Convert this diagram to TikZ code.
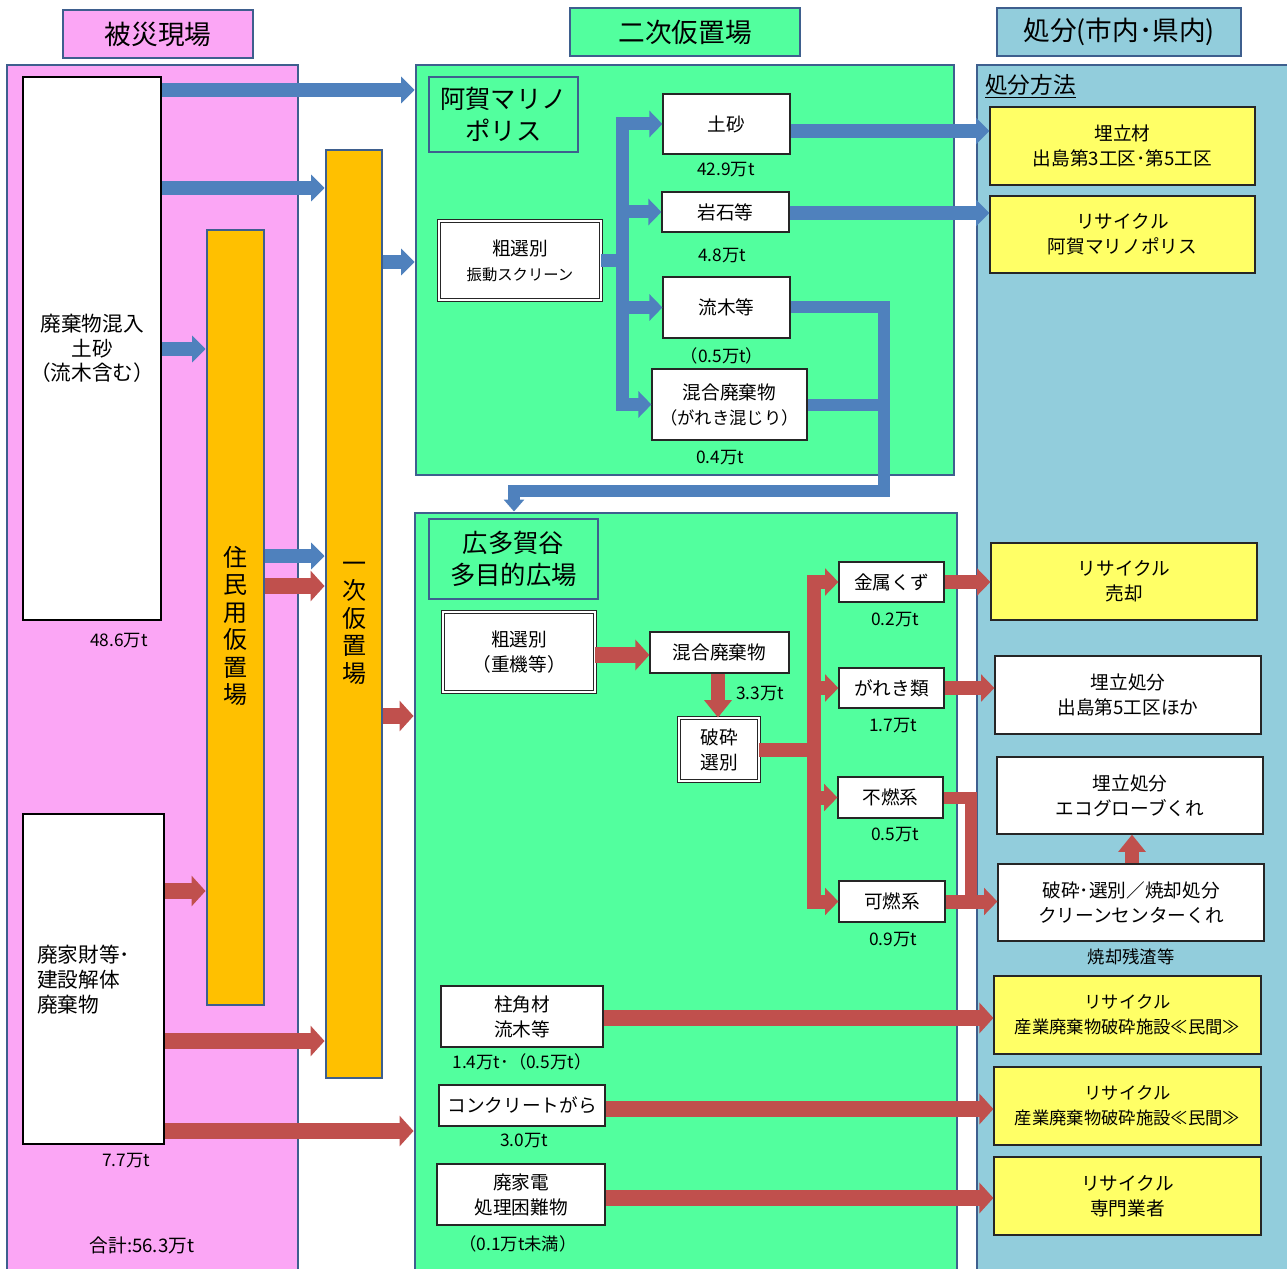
\documentclass[tikz,border=0pt]{standalone}
\usepackage{fontspec}
\setmainfont{Noto Sans CJK JP}
\usetikzlibrary{arrows.meta,calc}
\definecolor{pinkbg}{HTML}{FBA6F5}
\definecolor{greenbg}{HTML}{52FF9E}
\definecolor{bluebg}{HTML}{92CDDC}
\definecolor{orangebg}{HTML}{FFC000}
\definecolor{yellowbg}{HTML}{FFFF66}
\definecolor{framec}{HTML}{3E5F8E}
\definecolor{barrow}{HTML}{4F81BD}
\definecolor{rarrow}{HTML}{C0504D}
\newcommand{\fs}[2]{\fontsize{#1}{#2}\selectfont}
\newcommand{\bx}[7]{\node[#6, minimum width={(#4-#2)*0.75pt}, minimum height={(#5-#3)*0.75pt}] (#1) at ({(#2+#4)/2},{(#3+#5)/2}) {#7};}
\tikzset{
  panel/.style={draw=framec, line width=2.2pt, inner sep=0pt},
  hdr/.style={draw=framec, line width=2.2pt, font=\fs{20}{24}, inner sep=0pt},
  ttl/.style={draw=framec, line width=2.2pt, fill=greenbg, align=center, font=\fs{19}{23.5}, inner sep=0pt},
  bar/.style={draw=framec, line width=2.2pt, fill=orangebg, inner sep=0pt},
  vtxt/.style={align=center, font=\fs{18}{20.6}, inner sep=0pt},
  wbox/.style={draw=black!85, line width=0.9pt, fill=white, align=center, font=\fs{14}{18.75}, inner sep=0.5pt},
  bigbox/.style={draw=black, line width=1.6pt, fill=white, align=center, font=\fs{15.5}{18.5}, inner sep=0pt},
  dbox/.style={wbox, double=white, double distance=1.5pt, line width=0.7pt},
  ybox/.style={wbox, fill=yellowbg},
  lbl/.style={font=\fs{13}{15}, inner sep=0pt},
  barr/.style={draw=barrow, line width=10.5pt, -{Triangle[length=10pt,width=19.5pt]}},
  bbr/.style={draw=barrow, line width=9.75pt, -{Triangle[length=9.75pt,width=19.5pt]}},
  bline/.style={draw=barrow, line width=9pt},
  bdown/.style={draw=barrow, line width=9pt, -{Triangle[length=9pt,width=15pt]}},
  rarr/.style={draw=rarrow, line width=12pt, -{Triangle[length=10.5pt,width=22.5pt]}},
  rbr/.style={draw=rarrow, line width=10.5pt, -{Triangle[length=10pt,width=20pt]}},
  rline/.style={draw=rarrow, line width=9pt},
  rvert/.style={draw=rarrow, line width=11pt, -{Triangle[length=13pt,width=20pt]}},
}
\begin{document}
\begin{tikzpicture}[x=0.75pt,y=-0.75pt]
\useasboundingbox (0,0) rectangle (1287,1269);
\clip (0,0) rectangle (1287,1269);
% ---------- panels ----------
\bx{leftP}{7}{65}{298}{1300}{panel, fill=pinkbg}{}
\bx{midA}{416}{65}{954}{475}{panel, fill=greenbg}{}
\bx{midB}{415}{513}{957}{1300}{panel, fill=greenbg}{}
\bx{rightP}{977}{65}{1310}{1300}{panel, fill=bluebg}{}
% ---------- headers ----------
\bx{h1}{63}{10}{253}{58}{hdr, fill=pinkbg}{被災現場}
\bx{h2}{570}{8}{800}{56}{hdr, fill=greenbg}{二次仮置場}
\bx{h3}{997}{8}{1241}{56}{hdr, fill=bluebg}{処分(市内･県内)}
% ---------- left column ----------
\bx{box1}{23}{77}{161}{620}{bigbox}{廃棄物混入\\土砂\\（流木含む）}
\bx{box2}{23}{814}{164}{1144}{bigbox}{}
\node[anchor=west, align=left, font=\fs{15.5}{18.75}, inner sep=0pt] (box2t) at (37,980) {廃家財等･\\建設解体\\廃棄物};
\node[lbl] (l486) at (119,641) {48.6万t};
\node[lbl] (l77) at (126,1161) {7.7万t};
\node[lbl, font=\fs{14}{16}] (lsum) at (142,1245) {合計:56.3万t};
\bx{bar1}{207}{230}{264}{1005}{bar}{}
\bx{bar2}{326}{150}{382}{1078}{bar}{}
\node[vtxt] (bar1t) at (235.5,626) {住\\民\\用\\仮\\置\\場};
\node[vtxt] (bar2t) at (354,623) {一\\次\\仮\\置\\場};
% ---------- top middle (阿賀マリノポリス) ----------
\bx{agat}{429}{77}{578}{152}{ttl}{阿賀マリノ\\ポリス}
\bx{cs}{439}{221}{601}{300}{dbox}{粗選別\\{\fs{11.5}{15}振動スクリーン}}
\bx{dosha}{663}{94}{790}{154}{wbox}{土砂}
\bx{ganseki}{662}{192}{789}{232}{wbox}{岩石等}
\bx{ryuboku}{663}{277}{790}{338}{wbox}{流木等}
\bx{kongo}{652}{369}{807}{440}{wbox}{混合廃棄物\\{\fs{13}{17}（がれき混じり）}}
\node[lbl] (l429) at (726,170) {42.9万t};
\node[lbl] (l48) at (722,256) {4.8万t};
\node[lbl] (l05a) at (722,356) {（0.5万t）};
\node[lbl] (l04) at (720,458) {0.4万t};
% ---------- bottom middle (広多賀谷) ----------
\bx{hirot}{429}{519}{598}{599}{ttl}{広多賀谷\\多目的広場}
\bx{cs2}{443}{612}{595}{692}{dbox}{粗選別\\（重機等）}
\bx{kongo2}{650}{632}{789}{673}{wbox}{混合廃棄物}
\node[lbl] (l33) at (760,694) {3.3万t};
\bx{hasai}{679}{718}{759}{781}{dbox}{破砕\\選別}
\bx{kinzoku}{839}{562}{944}{602}{wbox}{金属くず}
\bx{gareki}{839}{668}{944}{708}{wbox}{がれき類}
\bx{funen}{838}{777}{943}{818}{wbox}{不燃系}
\bx{kanen}{839}{881}{945}{922}{wbox}{可燃系}
\node[lbl] (l02) at (895,620) {0.2万t};
\node[lbl] (l17) at (893,726) {1.7万t};
\node[lbl] (l05) at (895,835) {0.5万t};
\node[lbl] (l09) at (893,940) {0.9万t};
\bx{hashira}{441}{986}{603}{1047}{wbox}{柱角材\\流木等}
\bx{conc}{439}{1085}{605}{1126}{wbox}{コンクリートがら}
\bx{kaden}{437}{1164}{605}{1225}{wbox}{廃家電\\処理困難物}
\node[lbl] (l14) at (522,1062) {1.4万t･（0.5万t）};
\node[lbl] (l30) at (524,1141) {3.0万t};
\node[lbl] (l01) at (518,1244) {（0.1万t未満）};
% ---------- right column ----------
\node[anchor=west, font=\fs{17}{20}, inner sep=0pt] (hoho) at (985,86) {\underline{処分方法}};
\bx{umetate}{990}{107}{1255}{185}{ybox}{埋立材\\出島第3工区･第5工区}
\bx{recyc}{990}{196}{1255}{273}{ybox}{リサイクル\\阿賀マリノポリス}
\bx{baikyaku}{991}{543}{1257}{620}{ybox}{リサイクル\\売却}
\bx{umetate2}{995}{656}{1261}{734}{wbox}{埋立処分\\出島第5工区ほか}
\bx{eco}{997}{757}{1263}{834}{wbox}{埋立処分\\エコグローブくれ}
\bx{clean}{998}{864}{1264}{941}{wbox}{破砕･選別／焼却処分\\クリーンセンターくれ}
\node[lbl] (lzan) at (1131,957) {焼却残渣等};
\bx{sangyo1}{994}{976}{1261}{1054}{ybox, font=\fs{13}{18.75}}{リサイクル\\産業廃棄物破砕施設≪民間≫}
\bx{sangyo2}{994}{1067}{1261}{1145}{ybox, font=\fs{13}{18.75}}{リサイクル\\産業廃棄物破砕施設≪民間≫}
\bx{senmon}{994}{1157}{1261}{1235}{ybox}{リサイクル\\専門業者}
% ---------- arrows: left ----------
\draw[barr] (box1.east |- 0,90) -- (midA.west |- 0,90);
\draw[barr] (box1.east |- 0,188) -- (bar2.west |- 0,188);
\draw[barr] (box1.east |- 0,349) -- (bar1.west |- 0,349);
\draw[barr] (bar2.east |- 0,262) -- (midA.west |- 0,262);
\draw[barr] (bar1.east |- 0,556) -- (bar2.west |- 0,556);
\draw[rarr] (bar1.east |- 0,586) -- (bar2.west |- 0,586);
\draw[rarr] (bar2.east |- 0,716) -- (midB.west |- 0,716);
\draw[rarr] (box2.east |- 0,891) -- (bar1.west |- 0,891);
\draw[rarr] (box2.east |- 0,1041) -- (bar2.west |- 0,1041);
\draw[rarr] (box2.east |- 0,1131) -- (midB.west |- 0,1131);
% ---------- arrows: top middle ----------
\coordinate (bt) at (622,260.5);
\draw[bbr] (cs.east) -- (bt) |- (dosha.west);
\draw[bbr] (cs.east) -- (bt) |- (ganseki.west);
\draw[bbr] (cs.east) -- (bt) |- (ryuboku.west);
\draw[bbr] (cs.east) -- (bt) |- (kongo.west);
\draw[barr] (dosha.east |- 0,131) -- (umetate.west |- 0,131);
\draw[barr] (ganseki.east |- 0,213) -- (recyc.west |- 0,213);
\draw[bline] (kongo.east) -- (kongo.east -| 884,0);
\draw[bdown] (ryuboku.east) -| (884,491) -| (midB.north -| 514,0);
% ---------- arrows: bottom middle ----------
\draw[rarr] (cs2.east |- 0,655) -- (kongo2.west |- 0,655);
\draw[rvert] (kongo2.south -| 718,0) -- (hasai.north -| 718,0);
\coordinate (rt) at (814,749.5);
\draw[rbr] (hasai.east) -- (rt) |- (kinzoku.west);
\draw[rbr] (hasai.east) -- (rt) |- (gareki.west);
\draw[rbr] (hasai.east) -- (rt) |- (funen.west);
\draw[rbr] (hasai.east) -- (rt) |- (kanen.west);
\draw[rbr] (kinzoku.east) -- (baikyaku.west |- kinzoku.east);
\draw[rbr] (gareki.east) -- (umetate2.west |- gareki.east);
\draw[rline] (funen.east) -| (kanen.east -| 971,0);
\draw[rbr] (kanen.east) -- (clean.west |- kanen.east);
\draw[rvert] (clean.north -| 1132,0) -- (eco.south -| 1132,0);
\draw[rarr] (hashira.east |- 0,1018) -- (sangyo1.west |- 0,1018);
\draw[rarr] (conc.east |- 0,1109) -- (sangyo2.west |- 0,1109);
\draw[rarr] (kaden.east |- 0,1198) -- (senmon.west |- 0,1198);
\end{tikzpicture}
\end{document}
